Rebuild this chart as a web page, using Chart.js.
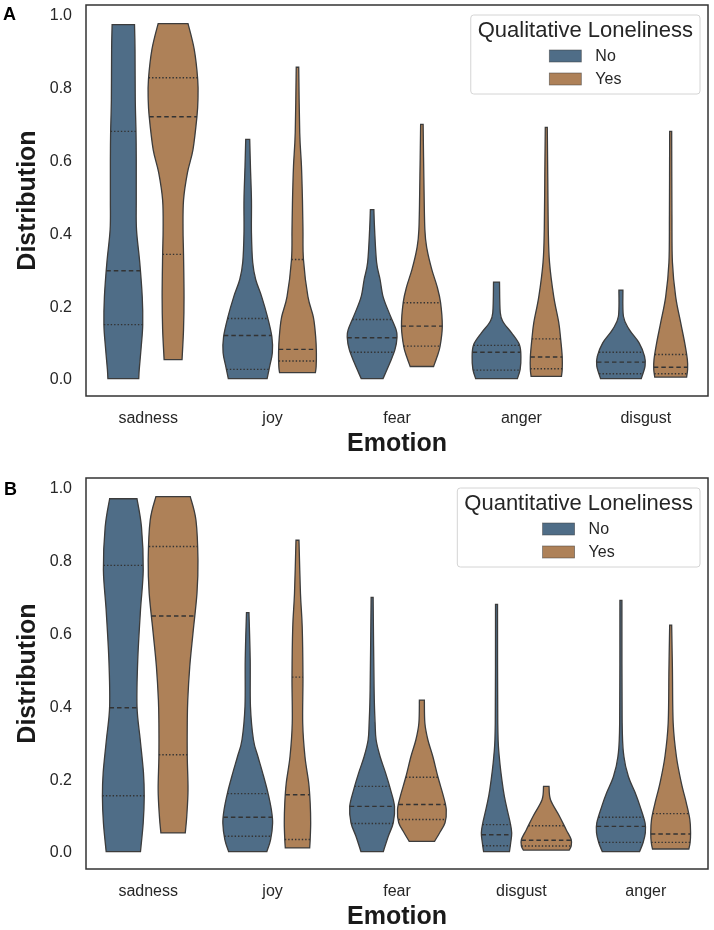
<!DOCTYPE html>
<html>
<head>
<meta charset="utf-8">
<script src="https://cdn.jsdelivr.net/npm/chart.js@4.4.0/dist/chart.umd.min.js"></script>
<style>
html, body { margin: 0; padding: 0; background: #fff; width: 714px; height: 930px; overflow: hidden; }
.panel { position: absolute; left: 0; width: 714px; height: 465px; }
.tag { position: absolute; font: bold 18px 'Liberation Sans', Arial, sans-serif; line-height: 1; color: #000; }
</style>
</head>
<body>
<div class="panel" style="top:0"><canvas id="chartA" width="714" height="465"></canvas></div>
<div class="panel" style="top:473px"><canvas id="chartB" width="714" height="465"></canvas></div>
<div class="tag" style="left:3px;top:5px">A</div>
<div class="tag" style="left:4px;top:480px">B</div>
<script>
// categories and ticks
var categoriesA = ['sadness', 'joy', 'fear', 'anger', 'disgust'];
var categoriesB = ['sadness', 'joy', 'fear', 'disgust', 'anger'];
var yTicks = [0, 0.2, 0.4, 0.6, 0.8, 1.0];
var hueLabels = ['No', 'Yes'];

// violin outlines: [value, relative half width] from bottom to top, one per category
var outlineNoA = [
    [[0, .62], [.025, .64], [.088, .72], [.148, .78], [.225, .76], [.319, .66], [.409, .53], [.49, .52], [.6, .52], [.676, .51], [.766, .48], [.904, .47], [.972, .45]],
    [[0, .78], [.033, .88], [.071, .99], [.115, .97], [.168, .8], [.225, .56], [.272, .32], [.319, .2], [.4, .15], [.49, .15], [.58, .11], [.657, .08]],
    [[0, .44], [.044, .72], [.08, .92], [.113, 1.0], [.135, .96], [.181, .68], [.225, .44], [.272, .32], [.319, .18], [.409, .1], [.464, .07]],
    [[0, .84], [.025, .95], [.06, .98], [.093, .92], [.126, .6], [.154, .28], [.181, .15], [.265, .12]],
    [[0, .82], [.034, .97], [.061, .95], [.098, .73], [.135, .33], [.171, .1], [.243, .08]]
];
var outlineYesA = [
    [[.052, .36], [.135, .42], [.225, .44], [.34, .42], [.409, .4], [.49, .42], [.566, .58], [.629, .8], [.72, .96], [.766, 1.0], [.821, .99], [.904, .85], [.975, .6]],
    [[.016, .72], [.033, .75], [.071, .76], [.115, .73], [.168, .64], [.225, .42], [.327, .24], [.409, .22], [.49, .2], [.583, .16], [.676, .09], [.855, .05]],
    [[.033, .47], [.06, .61], [.088, .73], [.143, .82], [.209, .75], [.253, .61], [.299, .4], [.354, .21], [.409, .12], [.55, .08], [.698, .05]],
    [[.006, .61], [.025, .64], [.06, .64], [.107, .58], [.154, .5], [.225, .3], [.319, .13], [.409, .08], [.55, .06], [.69, .04]],
    [[.004, .64], [.025, .68], [.052, .67], [.099, .56], [.154, .4], [.225, .2], [.319, .07], [.45, .05], [.679, .04]]
];
var outlineNoB = [
    [[0, .69], [.079, .8], [.151, .84], [.216, .81], [.307, .68], [.398, .55], [.526, .58], [.663, .69], [.773, .8], [.891, .73], [.969, .55]],
    [[0, .77], [.033, .92], [.078, 1.0], [.115, .95], [.162, .81], [.216, .6], [.261, .41], [.307, .23], [.398, .11], [.526, .1], [.656, .05]],
    [[0, .45], [.042, .65], [.079, .85], [.124, .9], [.17, .74], [.216, .54], [.261, .32], [.307, .16], [.353, .12], [.444, .08], [.698, .04]],
    [[0, .52], [.024, .57], [.051, .61], [.079, .55], [.124, .4], [.17, .27], [.261, .11], [.353, .05], [.679, .04]],
    [[0, .75], [.024, .89], [.051, .98], [.079, .97], [.124, .77], [.162, .57], [.206, .3], [.261, .12], [.353, .05], [.69, .04]]
];
var outlineYesB = [
    [[.051, .49], [.097, .55], [.17, .6], [.261, .57], [.353, .57], [.416, .59], [.508, .67], [.6, .8], [.709, .96], [.8, 1.0], [.91, .92], [.975, .69]],
    [[.01, .49], [.033, .51], [.079, .53], [.134, .51], [.189, .45], [.261, .3], [.353, .21], [.48, .22], [.617, .19], [.709, .12], [.855, .06]],
    [[.028, .51], [.051, .71], [.079, .93], [.115, .98], [.151, .87], [.206, .64], [.261, .44], [.307, .24], [.353, .12], [.416, .1]],
    [[.004, .92], [.015, 1.0], [.033, 1.0], [.06, .8], [.097, .53], [.142, .17], [.179, .11]],
    [[.007, .73], [.024, .78], [.051, .8], [.088, .77], [.133, .63], [.188, .43], [.261, .23], [.353, .1], [.5, .07], [.622, .04]]
];

// quartiles [q1, median, q3] per category
var quartNoA = [[.148, .296, .679], [.025, .118, .165], [.072, .112, .162], [.023, .072, .091], [.013, .045, .072]];
var quartYesA = [[.341, .719, .826], [.048, .080, .327], [.089, .144, .208], [.027, .059, .109], [.013, .031, .066]];
var quartNoB = [[.153, .395, .786], [.042, .094, .159], [.077, .124, .179], [.016, .046, .074], [.025, .069, .094]];
var quartYesB = [[.266, .647, .838], [.033, .156, .479], [.088, .129, .204], [.015, .031, .071], [.025, .048, .104]];

var colors = ['#4f6d87', '#ae8158'];
var FONT = "'Liberation Sans', Arial, sans-serif";
Chart.defaults.font.family = FONT;
Chart.defaults.color = '#262626';

function widthAt(outline, v) {
    for (var i = 0; i < outline.length - 1; i++) {
        var a = outline[i], b = outline[i + 1];
        if (v >= a[0] && v <= b[0]) {
            return a[1] + (b[1] - a[1]) * (v - a[0]) / (b[0] - a[0]);
        }
    }
    return outline[outline.length - 1][1];
}

function curveThrough(ctx, pts) {
    for (var i = 0; i < pts.length - 1; i++) {
        var p0 = pts[i - 1] || pts[i], p1 = pts[i], p2 = pts[i + 1], p3 = pts[i + 2] || p2;
        ctx.bezierCurveTo(
            p1[0] + (p2[0] - p0[0]) / 6, p1[1] + (p2[1] - p0[1]) / 6,
            p2[0] - (p3[0] - p1[0]) / 6, p2[1] - (p3[1] - p1[1]) / 6,
            p2[0], p2[1]);
    }
}

function violinPlugin(groups, legendTitle) {
    return {
        id: 'violins',
        afterDatasetsDraw: function(chart) {
            var ctx = chart.ctx, x = chart.scales.x, y = chart.scales.y, area = chart.chartArea;
            var step = x.getPixelForValue(1) - x.getPixelForValue(0);
            ctx.save();
            groups.forEach(function(g, h) {
                var off = (h === 0 ? -0.2 : 0.2) * step;
                var maxHalf = 0.2 * step;
                g.outlines.forEach(function(outline, i) {
                    var cx = x.getPixelForValue(i) + off;
                    var right = outline.map(function(p) { return [cx + p[1] * maxHalf, y.getPixelForValue(p[0])]; });
                    var left = outline.map(function(p) { return [cx - p[1] * maxHalf, y.getPixelForValue(p[0])]; }).reverse();
                    ctx.beginPath();
                    ctx.moveTo(left[left.length - 1][0], left[left.length - 1][1]);
                    ctx.lineTo(right[0][0], right[0][1]);
                    curveThrough(ctx, right);
                    ctx.lineTo(left[0][0], left[0][1]);
                    curveThrough(ctx, left);
                    ctx.closePath();
                    ctx.fillStyle = g.color;
                    ctx.fill();
                    ctx.lineWidth = 1.3;
                    ctx.strokeStyle = '#3c3c3c';
                    ctx.setLineDash([]);
                    ctx.stroke();
                    // quartile lines
                    g.quarts[i].forEach(function(q, k) {
                        var hw = widthAt(outline, q) * maxHalf;
                        var py = y.getPixelForValue(q);
                        ctx.beginPath();
                        ctx.moveTo(cx - hw, py);
                        ctx.lineTo(cx + hw, py);
                        ctx.lineWidth = 1.4;
                        ctx.strokeStyle = '#333';
                        ctx.setLineDash(k === 1 ? [4.5, 3] : [1.4, 2]);
                        ctx.stroke();
                    });
                });
            });
            ctx.setLineDash([]);
            // frame
            ctx.lineWidth = 1.5;
            ctx.strokeStyle = '#333';
            ctx.strokeRect(area.left, area.top, area.right - area.left, area.bottom - area.top);
            // legend
            ctx.font = '22px ' + FONT;
            var tw = ctx.measureText(legendTitle).width;
            var bw = tw + 14, bh = 79;
            var bx = area.right - 8 - bw, by = area.top + 10;
            ctx.beginPath();
            ctx.roundRect(bx, by, bw, bh, 3);
            ctx.fillStyle = 'rgba(255,255,255,0.85)';
            ctx.fill();
            ctx.lineWidth = 1;
            ctx.strokeStyle = '#d4d4d4';
            ctx.stroke();
            ctx.fillStyle = '#262626';
            ctx.textAlign = 'center';
            ctx.textBaseline = 'middle';
            ctx.fillText(legendTitle, bx + bw / 2, by + 16);
            ctx.font = '16px ' + FONT;
            var gw = 32 + 14 + ctx.measureText('Yes').width;
            var gx = bx + (bw - gw) / 2;
            ctx.textAlign = 'left';
            hueLabels.forEach(function(lab, h) {
                var cy = by + 41 + h * 23;
                ctx.fillStyle = groups[h].color;
                ctx.fillRect(gx, cy - 6, 32, 12);
                ctx.lineWidth = 0.8;
                ctx.strokeStyle = 'rgba(60,60,60,0.6)';
                ctx.strokeRect(gx, cy - 6, 32, 12);
                ctx.fillStyle = '#262626';
                ctx.fillText(lab, gx + 46, cy + 1);
            });
            ctx.restore();
        }
    };
}

function makeChart(id, cats, groups, legendTitle) {
    return new Chart(document.getElementById(id), {
        type: 'bar',
        data: { labels: cats, datasets: [] },
        options: {
            responsive: false,
            animation: false,
            layout: { autoPadding: false, padding: { top: 5, right: 6, left: 0, bottom: 0 } },
            plugins: { legend: { display: false }, tooltip: { enabled: false } },
            scales: {
                x: {
                    type: 'category',
                    offset: true,
                    grid: { display: false, drawTicks: false },
                    border: { display: false },
                    ticks: { font: { size: 16 }, color: '#262626', padding: 13 },
                    title: { display: true, text: 'Emotion', color: '#1a1a1a', font: { size: 25, weight: 'bold' }, padding: { top: 0, bottom: 6 } },
                    afterFit: function(s) { s.height = 69; s.paddingLeft = 0; s.paddingRight = 0; }
                },
                y: {
                    type: 'linear',
                    min: -0.048,
                    max: 1.026,
                    grid: { display: false, drawTicks: false },
                    border: { display: false },
                    ticks: { font: { size: 16 }, color: '#262626', padding: 14, labelOffset: 1.5, callback: function(v) { return v.toFixed(1); } },
                    afterBuildTicks: function(s) { s.ticks = yTicks.map(function(v) { return { value: v }; }); },
                    title: { display: true, text: 'Distribution', color: '#1a1a1a', font: { size: 25, weight: 'bold' }, padding: { top: 13, bottom: 0 } },
                    afterFit: function(s) { s.width = 86; s.paddingTop = 0; s.paddingBottom = 0; }
                }
            }
        },
        plugins: [violinPlugin(groups, legendTitle)]
    });
}

makeChart('chartA', categoriesA, [
    { outlines: outlineNoA, quarts: quartNoA, color: colors[0] },
    { outlines: outlineYesA, quarts: quartYesA, color: colors[1] }
], 'Qualitative Loneliness');

makeChart('chartB', categoriesB, [
    { outlines: outlineNoB, quarts: quartNoB, color: colors[0] },
    { outlines: outlineYesB, quarts: quartYesB, color: colors[1] }
], 'Quantitative Loneliness');
</script>
</body>
</html>
